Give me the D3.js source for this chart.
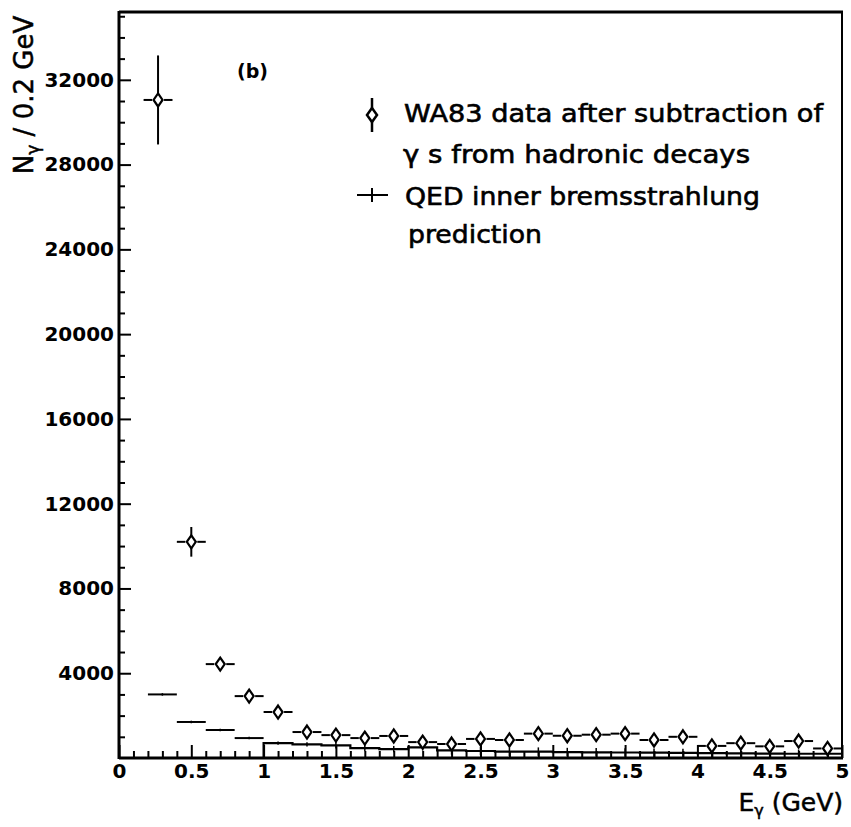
<!DOCTYPE html>
<html><head><meta charset="utf-8">
<script src="https://cdn.jsdelivr.net/npm/d3@7"></script>
<style>body{margin:0;background:#fff;} svg{display:block;}</style>
</head><body>
<script>
// ---- data ----
const dataX   = [0.27,0.5,0.7,0.9,1.1,1.3,1.5,1.7,1.9,2.1,2.3,2.5,2.7,2.9,3.1,3.3,3.5,3.7,3.9,4.1,4.3,4.5,4.7,4.9];
const dataY   = [31050,10200,4430,2920,2170,1225,1080,940,1040,750,660,900,850,1150,1050,1100,1150,850,1000,570,700,550,800,450];
const dataErr = [2100,700,150,150,150,150,150,150,150,200,200,200,200,200,200,200,200,200,200,200,200,200,200,200];
const qedLo   = [0.2,0.4,0.6,0.8,1.0,1.2,1.4,1.6,1.8,2.0,2.2,2.4,2.6,2.8,3.0,3.2,3.4,3.6,3.8,4.0,4.2,4.4,4.6,4.8];
const qedY    = [3000,1700,1320,940,700,640,600,470,420,500,360,330,300,300,280,270,260,250,240,230,220,210,200,200];
const qedErr  = [60,60,60,60,80,100,150,150,150,150,200,200,200,200,200,200,200,200,200,200,200,200,200,200];
const yMajorTicks = [4000,8000,12000,16000,20000,24000,28000,32000];
const xMajorTicks = [0,0.5,1,1.5,2,2.5,3,3.5,4,4.5,5];
const legendLines = ["WA83 data after subtraction of","γ s from hadronic decays","QED inner bremsstrahlung","prediction"];

const W = 851, H = 827;
const svg = d3.select("body").append("svg").attr("width",W).attr("height",H);
svg.append("rect").attr("width",W).attr("height",H).attr("fill","#fff");

const x = d3.scaleLinear().domain([0,5]).range([119,842]);
const y = d3.scaleLinear().domain([0,35200]).range([758,12]);
const font = "DejaVu Sans, sans-serif";

// frame
const fr = svg.append("g").attr("stroke","#000").attr("fill","none");
fr.append("line").attr("x1",x(0)).attr("x2",x(0)).attr("y1",y(35200)-1).attr("y2",y(0)+1).attr("stroke-width",3);
fr.append("line").attr("x1",x(0)).attr("x2",x(5)+1).attr("y1",y(35200)).attr("y2",y(35200)).attr("stroke-width",3);
fr.append("line").attr("x1",x(0)).attr("x2",x(5)+1).attr("y1",y(0)).attr("y2",y(0)).attr("stroke-width",3);
fr.append("line").attr("x1",x(5)).attr("x2",x(5)).attr("y1",y(35200)).attr("y2",y(0)).attr("stroke-width",2);

// y axis
const yMinor = d3.range(1000,35001,1000).filter(v=>v%4000!==0);
const yaxMin = svg.append("g").attr("transform",`translate(${x(0)},0)`)
  .call(d3.axisLeft(y).tickValues(yMinor).tickSize(-6).tickSizeOuter(0).tickFormat(""));
const yax = svg.append("g").attr("transform",`translate(${x(0)},0)`)
  .call(d3.axisLeft(y).tickValues(yMajorTicks).tickSize(-12).tickSizeOuter(0).tickPadding(5).tickFormat(d3.format("d")));
// x axis
const xMinor = d3.range(0.1,5,0.1).filter(v=>Math.abs(v*2-Math.round(v*2))>1e-6);
const xaxMin = svg.append("g").attr("transform",`translate(0,${y(0)})`)
  .call(d3.axisBottom(x).tickValues(xMinor).tickSize(-7).tickSizeOuter(0).tickFormat(""));
const xax = svg.append("g").attr("transform",`translate(0,${y(0)})`)
  .call(d3.axisBottom(x).tickValues(xMajorTicks).tickSize(-13).tickSizeOuter(0).tickPadding(6).tickFormat(d3.format("~g")));
[yaxMin,yax,xaxMin,xax].forEach(g=>{
  g.select(".domain").remove();
  g.selectAll(".tick line").attr("stroke","#000").attr("stroke-width",2);
  g.selectAll("text").attr("font-family",font).attr("font-weight","bold").attr("font-size",20).attr("fill","#000");
});

// QED prediction
const q = svg.append("g").attr("stroke","#000").attr("fill","none");
qedLo.forEach((lo,i)=>{
  if(lo<1.0){
    q.append("line").attr("x1",x(lo)).attr("x2",x(lo+0.2)).attr("y1",y(qedY[i])).attr("y2",y(qedY[i])).attr("stroke-width",2);
  }
  q.append("line").attr("x1",x(lo+0.1)).attr("x2",x(lo+0.1))
    .attr("y1",y(qedY[i]-qedErr[i])).attr("y2",y(qedY[i]+qedErr[i])).attr("stroke-width",1.5);
});
const stepIdx = qedLo.map((d,i)=>i).filter(i=>qedLo[i]>=1.0);
const pts = [[x(1.0),y(0)]];
stepIdx.forEach(i=>{pts.push([x(qedLo[i]),y(qedY[i])]);pts.push([x(qedLo[i]+0.2),y(qedY[i])]);});
q.append("path").attr("d",d3.line()(pts)).attr("stroke-width",2.2);

// data points
const dg = svg.append("g").attr("stroke","#000");
const dw = 4.5, dh = 6.5, gap = 1.5;
dataX.forEach((xv,i)=>{
  const cx = x(xv), cy = y(dataY[i]);
  dg.append("line").attr("x1",cx).attr("x2",cx).attr("y1",y(dataY[i]-dataErr[i])).attr("y2",y(dataY[i]+dataErr[i])).attr("stroke-width",2);
  dg.append("line").attr("x1",x(xv-0.1)).attr("x2",cx-dw-gap).attr("y1",cy).attr("y2",cy).attr("stroke-width",2);
  dg.append("line").attr("x1",cx+dw+gap).attr("x2",x(xv+0.1)).attr("y1",cy).attr("y2",cy).attr("stroke-width",2);
  dg.append("path").attr("d",`M${cx},${cy-dh}L${cx+dw},${cy}L${cx},${cy+dh}L${cx-dw},${cy}Z`)
    .attr("fill","#fff").attr("stroke-width",2.2);
});

// (b)
svg.append("text").attr("x",237).attr("y",78).attr("font-family",font).attr("font-weight","bold")
  .attr("font-size",19).text("(b)");

// legend
const lg = svg.append("g");
lg.append("line").attr("x1",372).attr("x2",372).attr("y1",98).attr("y2",132).attr("stroke","#000").attr("stroke-width",2.5);
lg.append("path").attr("d","M372,108L377,115L372,122L367,115Z").attr("fill","#fff").attr("stroke","#000").attr("stroke-width",2.5);
lg.append("line").attr("x1",357).attr("x2",388).attr("y1",195).attr("y2",195).attr("stroke","#000").attr("stroke-width",2);
lg.append("line").attr("x1",372).attr("x2",372).attr("y1",188).attr("y2",202).attr("stroke","#000").attr("stroke-width",2);
const lx = [404,403,405,408], ly = [122,163,205,243], lw = [419,347,355,134];
legendLines.forEach((t,i)=>{
  lg.append("text").attr("x",lx[i]).attr("y",ly[i]).attr("font-family",font).attr("font-size",25)
    .attr("stroke","#000").attr("stroke-width",0.6)
    .attr("textLength",lw[i]).attr("lengthAdjust","spacingAndGlyphs").text(t);
});

// axis titles
const yl = svg.append("text").attr("transform","translate(33,95) rotate(-90)").attr("text-anchor","middle")
  .attr("font-family",font).attr("font-size",26).attr("stroke","#000").attr("stroke-width",0.5);
yl.append("tspan").text("N");
yl.append("tspan").attr("font-size",17).attr("dy",6).text("γ");
yl.append("tspan").attr("dy",-6).text(" / 0.2 GeV");

const xl = svg.append("text").attr("x",843).attr("y",811).attr("text-anchor","end")
  .attr("font-family",font).attr("font-size",25).attr("stroke","#000").attr("stroke-width",0.5);
xl.append("tspan").text("E");
xl.append("tspan").attr("font-size",16).attr("dy",5).text("γ");
xl.append("tspan").attr("dy",-5).text(" (GeV)");
</script>
</body></html>
